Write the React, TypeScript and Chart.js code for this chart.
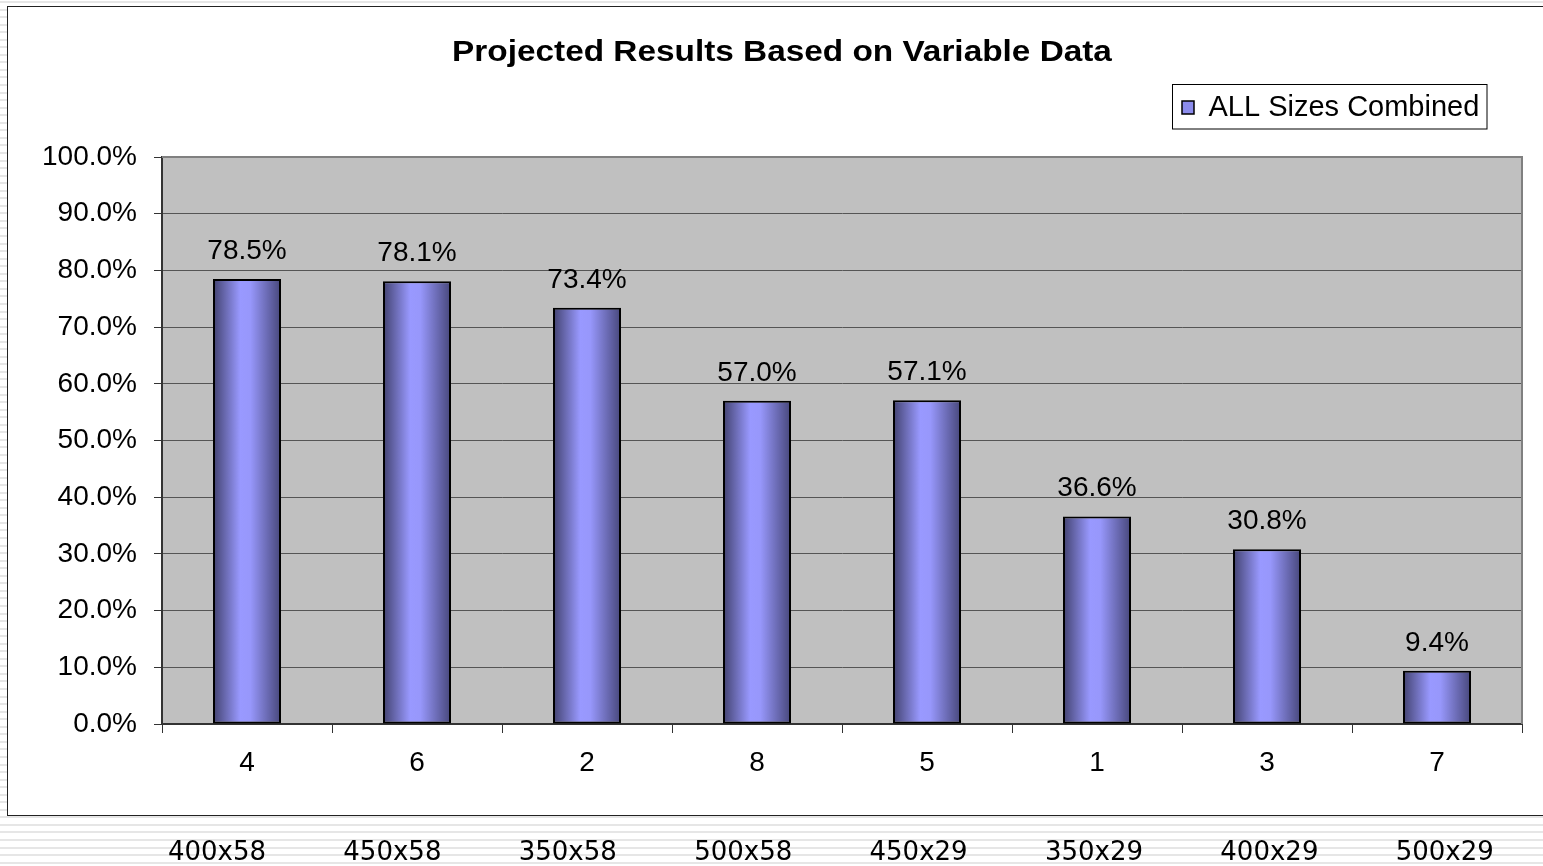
import React, { useEffect, useRef } from 'react';
import { Chart, registerables } from 'chart.js';

Chart.register(...registerables);

// ---------- data ----------
const chartTitle = 'Projected Results Based on Variable Data';
const seriesLabel = 'ALL Sizes Combined';
const categories = ['4', '6', '2', '8', '5', '1', '3', '7'];
const seriesValues = [78.5, 78.1, 73.4, 57.0, 57.1, 36.6, 30.8, 9.4];
const yTickLabels = ['0.0%', '10.0%', '20.0%', '30.0%', '40.0%', '50.0%', '60.0%', '70.0%', '80.0%', '90.0%', '100.0%'];
const sizeLabels = ['400x58', '450x58', '350x58', '500x58', '450x29', '350x29', '400x29', '500x29'];

const SANS = '"Liberation Sans", Arial, sans-serif';
const BAR_FRACTION = 0.4;
const TITLE_STRETCH = 1.15;

const plotBackground = {
  id: 'plotBackground',
  beforeDraw(chart: any) {
    const { ctx, chartArea } = chart;
    if (!chartArea) return;
    ctx.save();
    ctx.fillStyle = '#c0c0c0';
    ctx.fillRect(chartArea.left, chartArea.top, chartArea.right - chartArea.left, chartArea.bottom - chartArea.top);
    ctx.restore();
  },
  beforeDatasetsDraw(chart: any) {
    const { ctx, chartArea } = chart;
    ctx.save();
    ctx.strokeStyle = '#808080';
    ctx.lineWidth = 2;
    ctx.beginPath();
    ctx.moveTo(chartArea.left, chartArea.top);
    ctx.lineTo(chartArea.right, chartArea.top);
    ctx.lineTo(chartArea.right, chartArea.bottom);
    ctx.stroke();
    ctx.restore();
  },
};

const legendPlacer = {
  id: 'legendPlacer',
  afterLayout(chart: any) {
    const lg = chart.legend;
    if (lg) {
      lg.left = 1165;
      lg.right = 1480;
      lg.top = 83;
      lg.bottom = 133;
      lg.width = lg.right - lg.left;
      lg.height = lg.bottom - lg.top;
    }
    const tb = chart.titleBlock;
    if (tb && !tb.__stretched) {
      const orig = tb.draw.bind(tb);
      tb.draw = (...args: any[]) => {
        const c = chart.ctx;
        const cx = (tb.left + tb.right) / 2;
        c.save();
        c.translate(cx, 0);
        c.scale(TITLE_STRETCH, 1);
        c.translate(-cx, 0);
        orig(...args);
        c.restore();
      };
      tb.__stretched = true;
    }
  },
  afterDraw(chart: any) {
    const lg = chart.legend;
    if (!lg) return;
    const { ctx } = chart;
    ctx.save();
    ctx.strokeStyle = '#000';
    ctx.lineWidth = 1;
    ctx.strokeRect(lg.left + 0.5, lg.top + 1.5, 314.5, 44.5);
    ctx.restore();
  },
};

const valueLabels = {
  id: 'valueLabels',
  afterDatasetsDraw(chart: any) {
    const { ctx } = chart;
    const meta = chart.getDatasetMeta(0);
    const data = chart.data.datasets[0].data as number[];
    ctx.save();
    ctx.font = `28px ${SANS}`;
    ctx.fillStyle = '#000';
    ctx.textAlign = 'center';
    ctx.textBaseline = 'alphabetic';
    meta.data.forEach((el: any, i: number) => {
      ctx.fillText(`${Number(data[i]).toFixed(1)}%`, el.x, el.y - 20);
    });
    ctx.restore();
  },
};

function barGradient(ctx: any) {
  const chart = ctx.chart;
  const xs = chart.scales && chart.scales.x;
  if (!chart.chartArea || !xs || ctx.type !== 'data') return '#9999ff';
  const cx = xs.getPixelForValue(ctx.dataIndex);
  const half = ((xs.right - xs.left) / categories.length) * BAR_FRACTION / 2;
  const g = chart.ctx.createLinearGradient(cx - half, 0, cx + half, 0);
  g.addColorStop(0, '#42426f');
  g.addColorStop(0.4, '#9999ff');
  g.addColorStop(0.55, '#9797fb');
  g.addColorStop(1, '#47477a');
  return g;
}

export default function App() {
  const canvasRef = useRef<HTMLCanvasElement | null>(null);

  useEffect(() => {
    if (!canvasRef.current) return;
    const chart = new Chart(canvasRef.current, {
      type: 'bar',
      data: {
        labels: categories,
        datasets: [
          {
            label: seriesLabel,
            data: seriesValues,
            backgroundColor: barGradient as any,
            borderColor: '#000',
            borderWidth: 2,
            borderSkipped: false,
            categoryPercentage: 0.8,
            barPercentage: 0.5,
          },
        ],
      },
      options: {
        responsive: false,
        animation: false,
        devicePixelRatio: 1,
        layout: { padding: { left: 35, right: 35, top: 0, bottom: 0 } },
        plugins: {
          title: {
            display: true,
            text: chartTitle,
            color: '#000',
            font: { family: SANS, size: 29, weight: 'bold', lineHeight: 1.2 },
            padding: { top: 36, bottom: 86.2 },
          },
          legend: {
            display: true,
            position: 'chartArea' as any,
            align: 'start',
            labels: {
              font: { family: SANS, size: 29 },
              color: '#000',
              boxWidth: 12,
              boxHeight: 13,
              padding: 10,
              generateLabels: (chart: any) =>
                chart.data.datasets.map((ds: any, i: number) => ({
                  text: ds.label,
                  fillStyle: '#8c8cec',
                  strokeStyle: '#000',
                  lineWidth: 1.5,
                  hidden: false,
                  datasetIndex: i,
                  fontColor: '#000',
                })),
            },
          },
          tooltip: { enabled: false },
        },
        scales: {
          x: {
            type: 'category',
            grid: {
              offset: true,
              drawOnChartArea: false,
              drawTicks: true,
              tickLength: 9,
              tickColor: '#333',
              lineWidth: 1,
            },
            border: { display: true, color: '#333', width: 2 },
            ticks: {
              font: { family: SANS, size: 28 },
              color: '#000',
              padding: 13,
              maxRotation: 0,
              autoSkip: false,
            },
            afterFit: (s: any) => {
              s.height = 142;
            },
          },
          y: {
            min: 0,
            max: 100,
            ticks: {
              stepSize: 10,
              font: { family: SANS, size: 28 },
              color: '#000',
              padding: 17,
              callback: (_v: any, i: number) => yTickLabels[i],
            },
            grid: {
              color: '#555',
              lineWidth: 1,
              drawTicks: true,
              tickLength: 8,
              tickColor: '#333',
            },
            border: { display: true, color: '#333', width: 2 },
            afterFit: (s: any) => {
              s.width = 120;
            },
          },
        },
      },
      plugins: [plotBackground, legendPlacer, valueLabels],
    });
    return () => chart.destroy();
  }, []);

  const labelStart = 217;
  const labelStep = 175.4;

  return (
    <div
      style={{
        position: 'fixed',
        left: 0,
        top: 0,
        width: 1543,
        height: 866,
        overflow: 'hidden',
        background:
          'repeating-linear-gradient(to bottom, #ffffff 0px, #ffffff 1px, #e6e6e6 1px, #e6e6e6 3px, #ffffff 3px, #ffffff 7.55px)',
      }}
    >
      <div
        style={{
          position: 'absolute',
          left: 7,
          top: 6,
          width: 1600,
          height: 810,
          boxSizing: 'border-box',
          background: '#fff',
          border: '1.5px solid #222',
        }}
      />
      <canvas
        ref={canvasRef}
        width={1550}
        height={866}
        style={{ position: 'absolute', left: 7, top: 0, width: 1550, height: 866 }}
      />
      {sizeLabels.map((t, i) => (
        <div
          key={t + i}
          style={{
            position: 'absolute',
            left: labelStart + i * labelStep - 100,
            top: 836,
            width: 200,
            textAlign: 'center',
            fontFamily: '"DejaVu Sans", Verdana, sans-serif',
            fontSize: 26,
            lineHeight: '30px',
            color: '#000',
          }}
        >
          {t}
        </div>
      ))}
    </div>
  );
}
